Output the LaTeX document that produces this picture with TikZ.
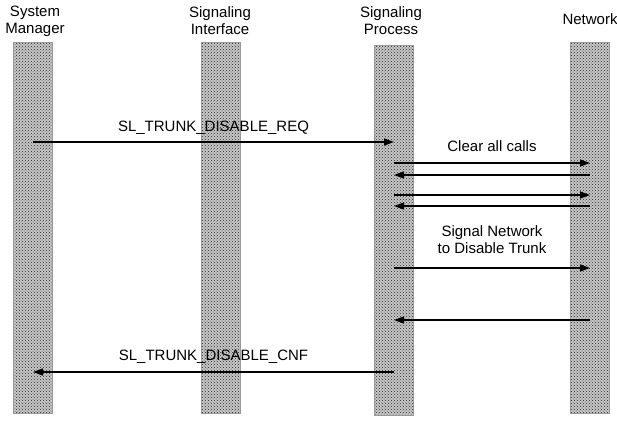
\documentclass[tikz,border=0pt]{standalone}
\usepackage{fontspec}
\setmainfont{Liberation Sans}
\usetikzlibrary{arrows.meta,patterns}
\tikzset{
  life/.style ={draw=black!40,preaction={fill=black!22},pattern=crosshatch dots,
                pattern color=black!85,minimum width=39pt,inner sep=0pt,anchor=north},
  hdr/.style  ={font=\fontsize{15}{17}\selectfont,align=center,inner sep=0pt},
  msg/.style  ={-{Triangle[length=10pt,width=7pt]},line width=1.3pt},
  lbl/.style  ={font=\fontsize{15}{17}\selectfont,align=center,inner sep=1pt},
}

\begin{document}
\begin{tikzpicture}[x=1pt,y=1pt]
\useasboundingbox (0,0) rectangle (617,-423);

% ===== lifelines =========================================================
\node[life,minimum height=371pt] (sm) at (33,-42)  {};
\node[life,minimum height=371pt] (si) at (221,-42) {};
\node[life,minimum height=370pt] (sp) at (394,-45) {};
\node[life,minimum height=371pt] (nw) at (590,-42) {};

\node[hdr] (smh) at (35,-21)  {System\\Manager};
\node[hdr] (sih) at (220,-21) {Signaling\\Interface};
\node[hdr] (sph) at (391,-21) {Signaling\\Process};
\node[hdr] (nwh) at (590,-19) {Network};

% ===== messages ==========================================================
\draw[msg] (sm.center |- 0,-142) -- node[lbl,above=6pt] {SL\_TRUNK\_DISABLE\_REQ} (sp.center |- 0,-142);
\draw[msg] (sp.center |- 0,-163) -- node[lbl,above=10pt] {Clear all calls} (nw.center |- 0,-163);
\draw[msg] (nw.center |- 0,-175) -- (sp.center |- 0,-175);
\draw[msg] (sp.center |- 0,-195) -- (nw.center |- 0,-195);
\draw[msg] (nw.center |- 0,-206) -- (sp.center |- 0,-206);
\draw[msg] (sp.center |- 0,-268) -- node[lbl,above=13pt] {Signal Network\\to Disable Trunk} (nw.center |- 0,-268);
\draw[msg] (nw.center |- 0,-320) -- (sp.center |- 0,-320);
\draw[msg] (sp.center |- 0,-372) -- node[lbl,above=7pt] {SL\_TRUNK\_DISABLE\_CNF} (sm.center |- 0,-372);
\end{tikzpicture}
\end{document}
